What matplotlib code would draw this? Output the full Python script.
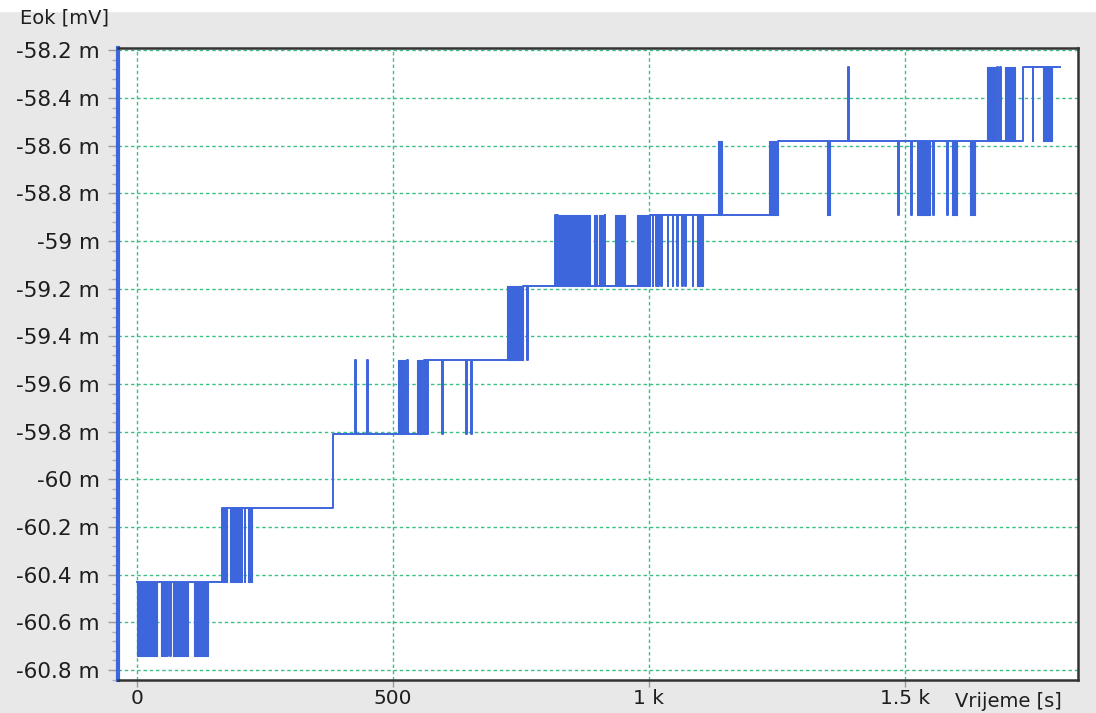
import numpy as np
import matplotlib
matplotlib.use("Agg")
import matplotlib.pyplot as plt
from matplotlib.ticker import MultipleLocator
from matplotlib.patches import Rectangle

# quantised signal levels (mV)
levels = [-60.74, -60.43, -60.12, -59.81, -59.50, -59.19, -58.89, -58.58, -58.27]

# baseline level changes: time [s], level index
base_t = [0, 166, 383, 568, 754, 1002, 1252, 1730]
base_lev = [1, 2, 3, 4, 5, 6, 7, 8]
end_t = 1803

# single short excursions: time [s], level reached
spike_t = [60, 66, 211, 426, 451, 529, 562, 565, 596, 644, 654, 762,
           817, 821, 914, 1008, 1014, 1019, 1025, 1037, 1047, 1055, 1066,
           1072, 1086, 1390, 1488, 1512, 1555, 1583, 1680, 1687, 1750]
spike_lev = [0, 0, 1, 4, 4, 4, 4, 4, 3, 3, 3, 4,
             6, 6, 6, 5, 5, 5, 5, 5, 5, 5, 5,
             5, 5, 8, 6, 6, 6, 6, 8, 8, 7]

# dense toggling between two neighbouring levels: start, end, lower level index
block_t0 = [0, 47, 70, 111, 166, 182, 217, 510, 547, 723, 824, 832, 893,
            902, 934, 977, 1094, 1135, 1234, 1347, 1523, 1592, 1627, 1660,
            1695, 1769]
block_t1 = [39, 57, 100, 139, 176, 205, 225, 523, 557, 754, 830, 885, 898,
            910, 953, 1002, 1105, 1143, 1252, 1353, 1549, 1601, 1637, 1676,
            1715, 1787]
block_lo = [0, 0, 0, 0, 1, 1, 1, 3, 3, 4, 5, 5, 5,
            5, 5, 5, 5, 6, 6, 6, 6, 6, 6, 7,
            7, 7]

xticks = [0, 500, 1000, 1500]
xlabels = ["0", "500", "1 k", "1.5 k"]

line_color = "#3d65dc"
grid_color = "#3fbf86"


def baseline_at(t):
    i = np.searchsorted(base_t, t, side="right") - 1
    return base_lev[i]


# build step trace
events = list(zip(base_t, base_lev))
half = 0.8
for s, lv in zip(spike_t, spike_lev):
    events.append((s - half, lv))
    events.append((s + half, baseline_at(s)))
events.sort(key=lambda e: e[0])
events.append((end_t, events[-1][1]))
tt = [e[0] for e in events]
vv = [levels[e[1]] for e in events]

fig = plt.figure(figsize=(10.96, 7.13), dpi=100)
fig.patch.set_facecolor("#e8e8e8")
fig.add_artist(Rectangle((0, 1 - 11 / 713), 1, 11 / 713, transform=fig.transFigure,
                         color="white", zorder=0))
ax = fig.add_axes([0.1077, 0.0463, 0.8759, 0.8864])
ax.set_facecolor("white")

ax.plot(tt, vv, drawstyle="steps-post", color=line_color, lw=1.4, zorder=3)
for t0, t1, lo in zip(block_t0, block_t1, block_lo):
    ax.fill_between([t0, t1], levels[lo], levels[lo + 1], color=line_color,
                    lw=0.8, zorder=3)

ax.set_xlim(-37, 1838)
ax.set_ylim(-60.842, -58.19)

ax.set_xticks(xticks)
ax.set_xticklabels(xlabels)
yt = np.round(np.arange(-60.8, -58.19, 0.2), 1)
ax.set_yticks(yt)
ax.set_yticklabels([f"{v:g} m" for v in yt])
ax.yaxis.set_minor_locator(MultipleLocator(0.04))

ax.tick_params(axis="both", which="major", direction="out", width=1,
               color="#9a9a9a", labelsize=15.5, labelcolor="#1e1e1e")
ax.tick_params(axis="y", which="major", length=7, pad=6)
ax.tick_params(axis="x", which="major", length=5, pad=1.5, labelsize=14.5)
ax.tick_params(axis="y", which="minor", direction="out", length=4, width=1,
               color="#b0b0b0")

ax.grid(True, which="major", color=grid_color, linestyle=(0, (2.5, 2)), lw=1)
ax.set_axisbelow(True)

ax.spines["left"].set_color(line_color)
ax.spines["left"].set_linewidth(3)
for side in ["top", "right", "bottom"]:
    ax.spines[side].set_color("#333333")
    ax.spines[side].set_linewidth(1.8)

fig.text(0.018, 0.988, "Eok [mV]", fontsize=14, color="#1e1e1e", va="top", ha="left")
fig.text(0.871, 0.003, "Vrijeme [s]", fontsize=14, color="#1e1e1e", va="bottom", ha="left")

fig.savefig("out.png", dpi=100, facecolor=fig.get_facecolor())
